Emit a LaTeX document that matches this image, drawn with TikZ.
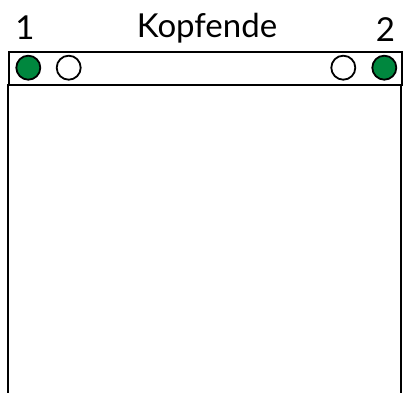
\documentclass[tikz,border=0pt]{standalone}
\usepackage{fontspec}
\setmainfont{Lato}
\definecolor{ledgreen}{RGB}{0,135,62}
\begin{document}
\begin{tikzpicture}[x=1pt,y=1pt,
  frame/.style={draw=black,line width=2pt},
  led/.style={circle,draw=black,line width=1.8pt,minimum size=24pt,inner sep=0pt},
  label/.style={font=\fontsize{33}{36}\selectfont,anchor=base,inner sep=0pt}]
\useasboundingbox (0,0) rectangle (404,393);
% body
\draw[frame] (7.5,0) -- (7.5,309) (401,309) -- (401,0);
% header strip
\node[frame,rectangle,minimum width=393.5pt,minimum height=33pt,inner sep=0pt,anchor=north west] (head) at (7.5,342) {};
% leds
\node[led,fill=ledgreen] (g1) at (28.3,325.3) {};
\node[led,fill=white] (w1) at (68.7,325.3) {};
\node[led,fill=white] (w2) at (343.3,325.3) {};
\node[led,fill=ledgreen] (g2) at (384.3,325.3) {};
% labels
\node[label] (n1) at (25,353) {1};
\node[label] (title) at (207,355) {Kopfende};
\node[label] (n2) at (385.5,351) {2};
\end{tikzpicture}
\end{document}
